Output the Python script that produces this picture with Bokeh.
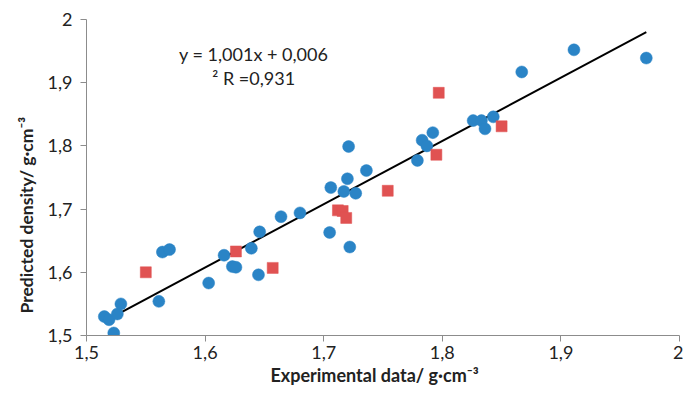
import math
from bokeh.plotting import figure
from bokeh.models import Range1d, FixedTicker, Label, Title
from bokeh.embed import file_html
from bokeh.resources import INLINE

# ---- data ----
blue_x = [1.515, 1.519, 1.526, 1.529, 1.523, 1.561, 1.564, 1.570, 1.603, 1.616,
          1.623, 1.626, 1.639, 1.645, 1.646, 1.664, 1.680, 1.705, 1.706, 1.717,
          1.720, 1.721, 1.722, 1.727, 1.736, 1.779, 1.783, 1.787, 1.792, 1.826,
          1.833, 1.836, 1.843, 1.867, 1.911, 1.972]
blue_y = [1.530, 1.525, 1.534, 1.550, 1.504, 1.554, 1.632, 1.636, 1.583, 1.627,
          1.609, 1.608, 1.638, 1.596, 1.664, 1.688, 1.694, 1.663, 1.734, 1.728,
          1.748, 1.799, 1.640, 1.725, 1.761, 1.777, 1.809, 1.800, 1.821, 1.840,
          1.840, 1.827, 1.846, 1.917, 1.952, 1.939]
red_x = [1.550, 1.626, 1.657, 1.712, 1.716, 1.719, 1.754, 1.795, 1.797, 1.850]
red_y = [1.600, 1.633, 1.607, 1.698, 1.697, 1.686, 1.729, 1.786, 1.884, 1.831]

fit_slope = 1.001
fit_intercept = 0.006
equation_text = "y = 1,001x + 0,006"
r2_text = "\u00b2 R =0,931"

tick_values = [1.5, 1.6, 1.7, 1.8, 1.9, 2.0]
tick_labels = ["1,5", "1,6", "1,7", "1,8", "1,9", "2"]
x_title = "Experimental data/ g\u00b7cm\u207b\u00b3"
y_title = "Predicted density/ g\u00b7cm\u207b\u00b3"

FONT = "Lato"
BLUE = "#2A84C6"
RED = "#E05252"
AXIS = "#8C8C8C"
TXT = "#222222"

p = figure(width=683, height=387, output_backend="svg", toolbar_location=None,
           x_range=Range1d(1.5, 2.0), y_range=Range1d(1.5, 2.0),
           min_border_left=86, min_border_right=4, min_border_top=19,
           min_border_bottom=52)
p.outline_line_color = None
p.grid.visible = False
p.background_fill_color = "white"
p.border_fill_color = "white"

for ax in (p.xaxis[0], p.yaxis[0]):
    ax.ticker = FixedTicker(ticks=tick_values)
    ax.major_label_overrides = {v: l for v, l in zip(tick_values, tick_labels)}
    ax.axis_line_color = AXIS
    ax.major_tick_line_color = AXIS
    ax.minor_tick_line_color = None
    ax.major_tick_in = 0
    ax.major_tick_out = 6
    ax.major_label_text_font = FONT
    ax.major_label_text_font_size = "18px"
    ax.major_label_text_color = TXT
p.xaxis.major_label_standoff = 4
p.yaxis.major_label_standoff = 8

# trend line spanning the data
all_x = blue_x + red_x
fx = [min(all_x), max(all_x)]
fy = [fit_slope * v + fit_intercept for v in fx]
p.line(fx, fy, line_color="black", line_width=2)

p.scatter(blue_x, blue_y, marker="circle", size=12, fill_color=BLUE,
          line_color=BLUE, line_width=0.5)
p.scatter(red_x, red_y, marker="square", size=11, fill_color=RED,
          line_color=RED, line_width=0.5)

p.add_layout(Label(x=1.641, y=1.9455, text=equation_text, text_font=FONT,
                   text_font_size="18px", text_color=TXT, text_align="center",
                   text_baseline="middle"))
p.add_layout(Label(x=1.641, y=1.9076, text=r2_text, text_font=FONT,
                   text_font_size="18px", text_color=TXT, text_align="center",
                   text_baseline="middle"))

# axis titles
p.add_layout(Title(text=x_title, text_font=FONT, text_font_size="18px",
                   text_font_style="bold", text_color=TXT, align="left",
                   offset=184, standoff=0), "below")
p.add_layout(Title(text=y_title, text_font=FONT, text_font_size="17.5px",
                   text_font_style="bold", text_color=TXT, align="left",
                   offset=22, standoff=16), "left")

open("out.html", "w").write(file_html(p, INLINE))
